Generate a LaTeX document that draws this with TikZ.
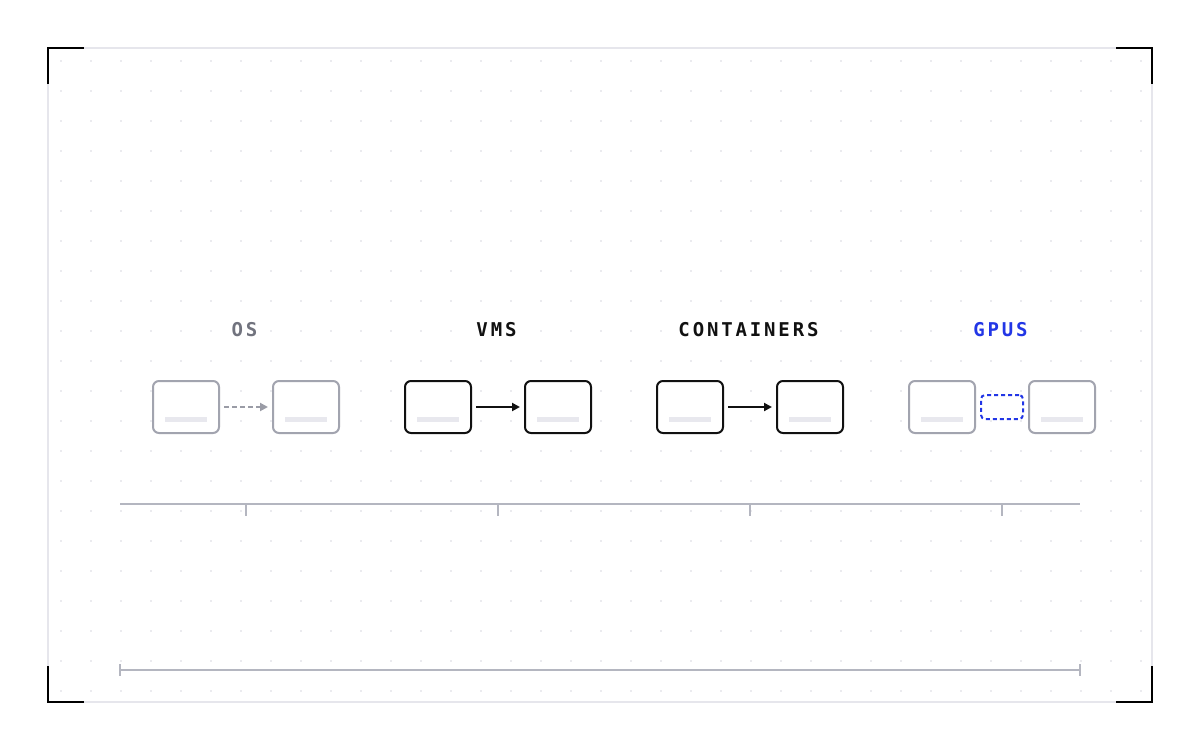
\documentclass[tikz,border=0pt]{standalone}
\usepackage{fontspec}
\usetikzlibrary{arrows.meta,calc}
\newfontfamily\lblfont[LetterSpace=15]{DejaVu Sans Mono}
\definecolor{framegray}{HTML}{E6E6EC}
\definecolor{dotgray}{HTML}{EBEBEF}
\definecolor{boxgray}{HTML}{A2A4AF}
\definecolor{bargray}{HTML}{E8E8EE}
\definecolor{axisgray}{HTML}{B4B6C0}
\definecolor{txtgray}{HTML}{71737E}
\definecolor{arrgray}{HTML}{9A9CA6}
\definecolor{gpublue}{HTML}{2236E6}
\definecolor{ink}{HTML}{111111}
\begin{document}
\begin{tikzpicture}[x=1pt,y=-1pt,
  lbl/.style={font=\lblfont\bfseries\fontsize{19}{19}\selectfont, fill=white, inner sep=2pt, anchor=center},
  graybox/.style={draw=boxgray, line width=2pt, fill=white, rounded corners=6pt, minimum width=66pt, minimum height=52pt, inner sep=0pt},
  blackbox/.style={graybox, draw=ink},
  midbox/.style={draw=gpublue, line width=2pt, dash pattern=on 4pt off 3pt, fill=white, rounded corners=4pt, minimum width=42pt, minimum height=24pt, inner sep=0pt},
  innerbar/.style={fill=bargray, draw=none},
  grayarrow/.style={draw=arrgray, line width=2pt, dash pattern=on 5pt off 3pt, -{Triangle[length=8pt,width=8pt]}, shorten <=4pt, shorten >=4pt},
  blackarrow/.style={draw=ink, line width=2pt, -{Triangle[length=8pt,width=8pt]}, shorten <=4pt, shorten >=4pt},
  axis/.style={draw=axisgray, line width=2pt},
  bracket/.style={draw=black, line width=2.5pt}
]
\useasboundingbox (0,0) rectangle (1200,750);
\fill[white] (0,0) rectangle (1200,750);
% frame
\draw[framegray, line width=1.5pt] (48,48) rectangle (1152,702);
% dots
\foreach \i in {0,...,36} {
  \foreach \j in {0,...,21} {
    \fill[dotgray] ({61+30*\i-1},{61+30*\j-1}) rectangle +(2,2);
  }
}
% corner brackets
\draw[bracket] (48,84) -- (48,48) -- (84,48);
\draw[bracket] (1116,48) -- (1152,48) -- (1152,84);
\draw[bracket] (48,666) -- (48,702) -- (84,702);
\draw[bracket] (1116,702) -- (1152,702) -- (1152,666);

% labels
\node[lbl, text=txtgray] (losl) at (244.5,329.5) {OS};
\node[lbl, text=ink] (lvm) at (496.5,329.5) {VMS};
\node[lbl, text=ink] (lct) at (748.5,329.5) {CONTAINERS};
\node[lbl, text=gpublue] (lgp) at (1000.5,329.5) {GPUS};

% boxes
\node[graybox] (os1) at (186,407) {};
\node[graybox] (os2) at (306,407) {};
\node[blackbox] (vm1) at (438,407) {};
\node[blackbox] (vm2) at (558,407) {};
\node[blackbox] (ct1) at (690,407) {};
\node[blackbox] (ct2) at (810,407) {};
\node[graybox] (gp1) at (942,407) {};
\node[graybox] (gp2) at (1062,407) {};
\node[midbox] (gpm) at (1002,407) {};

\foreach \b in {os1,os2,vm1,vm2,ct1,ct2,gp1,gp2} {
  \fill[innerbar] ($(\b.center)+(-21,10)$) rectangle ($(\b.center)+(21,15)$);
}

% connectors
\draw[grayarrow] (os1.east) -- (os2.west);
\draw[blackarrow] (vm1.east) -- (vm2.west);
\draw[blackarrow] (ct1.east) -- (ct2.west);

% axis with ticks
\coordinate (axl) at (120,504);
\coordinate (axr) at (1080,504);
\draw[axis] (axl) -- (axr);
\foreach \x in {246,498,750,1002} {
  \draw[axis] (\x,504) -- (\x,516);
}
% bottom range line
\coordinate (bl) at (120,670);
\coordinate (br) at (1080,670);
\draw[axis] (bl) -- (br);
\draw[axis] (120,664) -- (120,676);
\draw[axis] (1080,664) -- (1080,676);
\end{tikzpicture}
\end{document}
